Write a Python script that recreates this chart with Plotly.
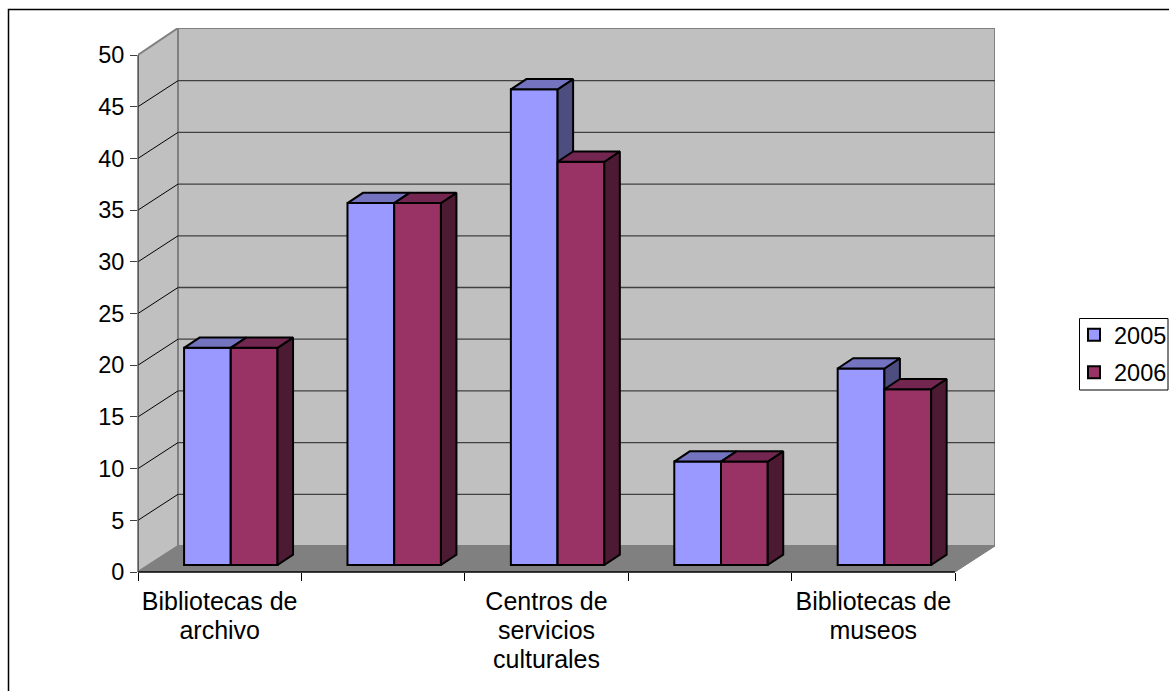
import plotly.graph_objects as go

# Chart data
category_lines = [["Bibliotecas de", "archivo"], [], ["Centros de", "servicios", "culturales"], [], ["Bibliotecas de", "museos"]]
series_2005 = [21, 35, 46, 10, 19]
series_2006 = [21, 35, 39, 10, 17]
y_ticks = [0, 5, 10, 15, 20, 25, 30, 35, 40, 45, 50]

# Page geometry in pixels
W, H = 1169, 691
PX_LEFT, PX_RIGHT = 138, 995
PX_BOTTOM, PX_TOP = 572, 28
PX_PER_CAT = 163.4
PX_PER_UNIT = 10.34

# Oblique projection, expressed in axis units
x_max = (PX_RIGHT - PX_LEFT) / PX_PER_CAT
y_max = (PX_BOTTOM - PX_TOP) / PX_PER_UNIT
wall_dx = 40 / PX_PER_CAT
wall_dy = 26 / PX_PER_UNIT
n_cat = len(series_2005)
y_top = y_ticks[-1]

bar_w = 0.286
bar_base = 7 / PX_PER_UNIT
bar_shift = 0.068
depth_dx = 15.5 / PX_PER_CAT
depth_dy = 10.3 / PX_PER_UNIT

FONT = "Liberation Sans, Arial, sans-serif"
FONT_SIZE = 23.5
LABEL_SIZE = 25
LINE_STEP_SIZE = 22.3  # sets the 29 px spacing between label lines
EDGE = "#000000"
EDGE_W = 2


def polygon(points):
    xs = [p[0] for p in points] + [points[0][0], None]
    ys = [p[1] for p in points] + [points[0][1], None]
    return xs, ys


def flat_trace(polys, color, line_color=EDGE, width=EDGE_W, xa="x", ya="y"):
    xs, ys = [], []
    for poly in polys:
        px, py = polygon(poly)
        xs += px
        ys += py
    return go.Scatter(x=xs, y=ys, mode="lines", fill="toself", fillcolor=color,
                      line=dict(color=line_color, width=width), cliponaxis=False,
                      hoverinfo="skip", showlegend=False, xaxis=xa, yaxis=ya)


def line_trace(xs, ys, color, width):
    return go.Scatter(x=xs, y=ys, mode="lines", line=dict(color=color, width=width), cliponaxis=False,
                      hoverinfo="skip", showlegend=False, xaxis="x", yaxis="y")


def label_text(lines):
    return "<br>".join(f'<span style="font-size:{LABEL_SIZE}px">{t}</span>' for t in lines)


fig = go.Figure()

# Walls and floor
fig.add_trace(flat_trace([[(0, 0), (wall_dx, wall_dy), (wall_dx, y_max), (0, y_top)]],
                         "#C0C0C0", "#808080", 2))
fig.add_trace(flat_trace([[(wall_dx, wall_dy), (x_max, wall_dy), (x_max, y_max), (wall_dx, y_max)]],
                         "#C0C0C0", "#808080", 2))
fig.add_trace(flat_trace([[(0, 0), (n_cat, 0), (x_max, wall_dy), (wall_dx, wall_dy)]],
                         "#808080", "#808080", 1))

# Gridlines running along the side wall and the back wall
for v in y_ticks[1:-1]:
    fig.add_trace(line_trace([0, wall_dx], [v, v + wall_dy], "#000000", 1))
    fig.add_trace(line_trace([wall_dx, x_max], [v + wall_dy, v + wall_dy], "#404040", 1.3))


def add_series(name, values, offset, front, top, side, xa, ya):
    centers = [i + 0.5 + bar_shift + offset for i in range(n_cat)]
    tops, sides = [], []
    for c, v in zip(centers, values):
        l, r = c - bar_w / 2, c + bar_w / 2
        h = bar_base + v
        tops.append([(l, h), (r, h), (r + depth_dx, h + depth_dy), (l + depth_dx, h + depth_dy)])
        sides.append([(r, bar_base), (r + depth_dx, bar_base + depth_dy),
                      (r + depth_dx, h + depth_dy), (r, h)])
    fig.add_trace(go.Bar(x=centers, y=values, base=bar_base, width=bar_w, name=name,
                         legendgroup=name, marker=dict(color=front, line=dict(color=EDGE, width=EDGE_W)),
                         xaxis=xa, yaxis=ya))
    fig.add_trace(flat_trace(sides, side, xa=xa, ya=ya))
    fig.add_trace(flat_trace(tops, top, xa=xa, ya=ya))


# Each series sits on its own overlaid axes so 2006 paints over the side faces of 2005
add_series("2005", series_2005, -bar_w / 2, "#9999FF", "#7373BF", "#4D4D80", "x2", "y2")
add_series("2006", series_2006, bar_w / 2, "#993366", "#732650", "#4D1A33", "x3", "y3")

x_dom = [PX_LEFT / W, PX_RIGHT / W]
y_dom = [1 - PX_BOTTOM / H, 1 - PX_TOP / H]
overlay_x = dict(range=[0, x_max], domain=x_dom, overlaying="x", visible=False, fixedrange=True, automargin=False)
overlay_y = dict(range=[0, y_max], domain=y_dom, overlaying="y", visible=False, fixedrange=True, automargin=False)

# Axis lines end at the last category and the top tick, short of the plot area's far edges
axis_right = (PX_LEFT + n_cat * PX_PER_CAT) / W
axis_top = 1 - (PX_BOTTOM - y_top * PX_PER_UNIT) / H

fig.update_layout(
    width=W, height=H, margin=dict(l=0, r=0, t=0, b=0, autoexpand=False),
    paper_bgcolor="#FFFFFF", plot_bgcolor="rgba(0,0,0,0)",
    font=dict(family=FONT, size=FONT_SIZE, color="#000000"),
    barmode="overlay", showlegend=True,
    xaxis=dict(range=[0, x_max], domain=x_dom, showgrid=False, zeroline=False, showline=False,
               tickmode="array", tickvals=[i + 0.5 for i in range(n_cat)],
               ticktext=[label_text(c) for c in category_lines],
               tickfont=dict(size=LINE_STEP_SIZE),
               ticks="", ticklabelstandoff=15, tickangle=0, fixedrange=True, automargin=False,
               minor=dict(tickmode="array", tickvals=list(range(n_cat + 1)), ticks="outside",
                          ticklen=8, tickcolor="#000000", tickwidth=1)),
    yaxis=dict(range=[0, y_max], domain=y_dom, showgrid=False, zeroline=False, showline=False,
               tickmode="array", tickvals=y_ticks, ticks="outside", ticklen=7, ticklabelstandoff=1,
               tickcolor="#404040", tickwidth=1, fixedrange=True, automargin=False),
    xaxis2=dict(anchor="y2", **overlay_x), yaxis2=dict(anchor="x2", **overlay_y),
    xaxis3=dict(anchor="y3", **overlay_x), yaxis3=dict(anchor="x3", **overlay_y),
    legend=dict(x=1074 / W, y=1 - 313 / H, xanchor="left", yanchor="top",
                bgcolor="rgba(0,0,0,0)", borderwidth=0, traceorder="grouped",
                tracegroupgap=4, font=dict(family=FONT, size=FONT_SIZE)),
    shapes=[
        # outer chart frame, open past the page edges
        dict(type="rect", xref="paper", yref="paper", x0=8.5 / W, x1=1175 / W,
             y0=-10 / H, y1=1 - 9.5 / H, line=dict(color="#000000", width=1.5), layer="below"),
        # legend box
        dict(type="rect", xref="paper", yref="paper", x0=1079.5 / W, x1=1168 / W,
             y0=1 - 390 / H, y1=1 - 318.5 / H, line=dict(color="#000000", width=1), layer="below"),
        # axis lines
        dict(type="line", xref="paper", yref="paper", x0=x_dom[0], x1=axis_right,
             y0=y_dom[0], y1=y_dom[0], line=dict(color="#000000", width=1.5), layer="above"),
        dict(type="line", xref="paper", yref="paper", x0=x_dom[0], x1=x_dom[0],
             y0=y_dom[0], y1=axis_top, line=dict(color="#404040", width=1.2), layer="above"),
    ],
)

fig.write_html("out.html")
